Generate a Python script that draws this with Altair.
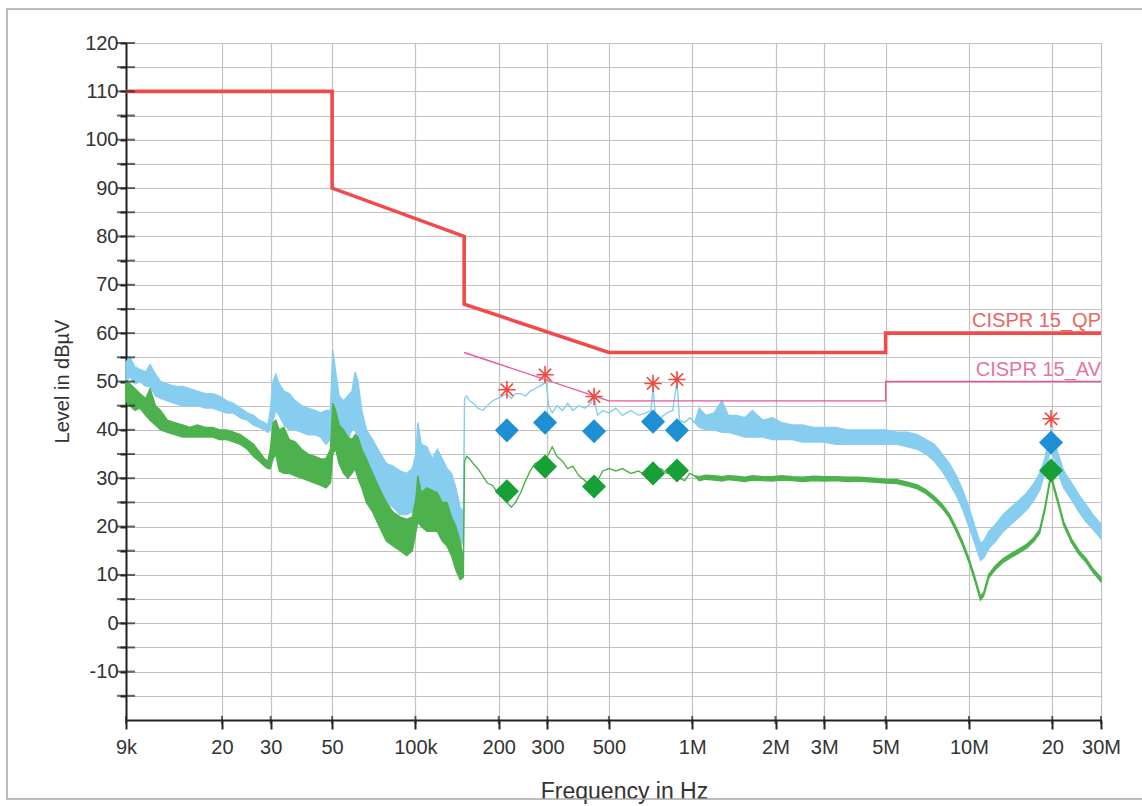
import altair as alt
import pandas as pd

# ---------------- data ----------------
FREQ_KHZ = [
    9.0, 9.3, 9.7, 10.1, 10.6, 11.0, 11.5, 12.0, 12.7, 13.5, 14.4, 15.3, 16.3, 17.4, 18.5, 19.6,
    20.8, 22.0, 23.3, 24.7, 26.0, 27.3, 28.5, 29.3,
    29.9, 30.6, 31.3, 32.2, 33.5, 35.0, 36.8, 38.8, 41.0, 43.3, 45.5, 47.5, 49.3, 50.3, 51.5, 53.0,
    55.0, 57.0, 59.0, 60.5, 62.0, 64.0, 66.5, 70.0, 74.0, 78.5, 83.0, 88.0, 93.0, 97.5, 100.5, 102.0,
    105.0, 110.0, 115.0, 120.0, 125.0, 130.0, 135.0, 140.0, 145.0, 149.0,
    150.5, 153, 157, 162, 168, 175, 182, 190, 198, 206, 214, 222, 230, 240, 250, 260, 270, 280, 290,
    296, 303, 312, 325, 340, 355, 370, 390, 410, 430, 442, 455, 475, 500, 530, 560, 600, 640, 680,
    710, 722, 735, 770, 810, 850, 881, 900, 940, 980, 1020,
    1060, 1120, 1200, 1280, 1350, 1450, 1550, 1650, 1800, 1950, 2100, 2300, 2500, 2750, 3000, 3300,
    3650, 4000, 4500, 5000, 5500, 6000, 6500, 7000, 7500, 8000, 8500, 9000, 9500, 10000, 10500,
    11000, 11300, 11800, 12500, 13300, 14200, 15200, 16200, 17200, 18000, 18800, 19400, 19800,
    20300, 21000, 22000, 23500, 25000, 26500, 28000, 30000,
]

BLUE_LO = [
    50, 51, 49.5, 50, 49, 49, 47, 46.5, 46, 45.5, 45, 45, 45, 44.5, 44.5, 44,
    43.5, 43.5, 42.5, 42, 41, 40.5, 40, 39.5,
    40, 42, 44, 43, 41, 40, 40, 39.5, 39, 39, 38.5, 37, 38, 40, 40, 38,
    39, 38, 40, 40, 38, 35, 31, 29, 27, 25, 24, 22.5, 22.5, 23, 25, 27,
    26, 25, 25, 24, 23, 21, 19, 17, 16, 17,
    46.5, 47, 46, 45.5, 44.5, 44, 45, 46, 46.5, 47, 47.5, 46.5, 47.5, 47.5, 47, 48, 48.5, 49, 49.5,
    50.5, 45, 43.5, 45, 44, 45.5, 44, 45, 44.5, 45.5, 47, 43, 44, 43.5, 44.5, 43, 44, 43, 43.5,
    44, 49, 43, 42.5, 43.5, 44, 50, 42, 41.5, 42.5, 41.5,
    40.5, 40, 40, 39.5, 39.5, 39, 38.5, 38.5, 38.5, 38, 38, 38, 37.5, 37.5, 37.5, 37,
    37, 37, 37, 37, 37, 36.5, 36, 35, 33.5, 31.5, 29, 26.5, 23.5, 20, 16.5,
    13, 13.5, 15.5, 17, 19, 20.5, 22, 23.5, 25.5, 27.5, 31, 34, 37,
    34, 31, 28, 25.5, 23, 21, 19.5, 17.5,
]
BLUE_HI = [
    54, 55, 53, 52.5, 52, 53.5, 51.5, 50, 49.5, 49, 49, 48.5, 48, 47.5, 47.5, 47,
    46, 45.5, 44.5, 43.5, 43, 42, 41.5, 41,
    44, 50, 51.5, 49.5, 48, 47.5, 46, 45, 44.5, 44, 43.5, 44, 44, 56.5, 52, 47,
    46, 47, 48, 52, 50, 44, 40, 38, 35.5, 33, 32.5, 31.5, 31, 32, 35, 41.5,
    37, 36.5, 34, 36, 34, 32, 31, 28, 24, 23,
    46.5, 47, 46, 45.5, 44.5, 44, 45, 46, 46.5, 47, 47.5, 46.5, 47.5, 47.5, 47, 48, 48.5, 49, 49.5,
    50.5, 45, 43.5, 45, 44, 45.5, 44, 45, 44.5, 45.5, 47, 43, 44, 43.5, 44.5, 43, 44, 43, 43.5,
    44, 49, 43, 42.5, 43.5, 44, 50, 42, 41.5, 42.5, 41.5,
    44.5, 43, 43.5, 46, 43, 43, 42.5, 44, 42, 42.5, 41.5, 41, 41, 40.5, 40.5, 40.5,
    40, 40, 40, 40, 39.5, 39.5, 39, 38, 37, 35, 33, 30.5, 27.5, 24, 20,
    16.5, 17, 19, 20.5, 22.5, 24, 25.5, 27, 29, 31, 34, 38, 40,
    38, 35, 31.5, 29, 26.5, 24.5, 22.5, 20.5,
]
GREEN_LO = [
    46, 45, 44, 44.5, 43, 42, 41, 40, 39.5, 39, 38.5, 38.5, 38.5, 38.5, 38.5, 38,
    38, 37.5, 37, 36, 34.5, 33.5, 32.5, 32,
    32, 34, 35, 31.5, 31, 31, 30.5, 30, 29.5, 29, 28.5, 28, 29, 35, 36, 33,
    31, 30, 31, 32, 30, 28, 25, 23, 20, 17, 16, 15, 14, 15, 19, 21,
    20, 19, 19, 19, 17, 16, 14, 11, 9, 9.5,
    33.5, 34.5, 34, 33, 32, 30.5, 29, 28.5, 27, 26, 25, 24, 25, 27, 29.5, 31.5, 33, 33.5, 33,
    34, 35, 36.5, 34.5, 33.5, 32, 32.5, 30.5, 29.5, 28.5, 28.5, 29.5, 31.5, 32, 31.5, 32, 31, 31.5, 30.5,
    31, 31.5, 31, 32, 31, 31.5, 32, 30, 29.5, 31, 30.5,
    29.5, 29.8, 29.6, 29.4, 29.7, 29.5, 29.3, 29.6, 29.5, 29.4, 29.6, 29.5, 29.3, 29.5, 29.4, 29.5,
    29.3, 29.4, 29.2, 29.0, 28.9, 28.4, 27.8, 26.8, 25.4, 23.8, 21.8, 19.0, 16.0, 12.6, 8.8,
    4.8, 5.6, 9.4, 11.2, 12.6, 13.6, 14.6, 15.6, 17.0, 18.6, 23.2, 27.6, 30.2,
    27.6, 24.6, 20.2, 16.6, 14.2, 12.6, 10.6, 8.6,
]
GREEN_HI = [
    50, 49.5, 48.5, 47.5, 46.5, 48.5, 45, 44, 42, 41.5, 41, 40.5, 41, 40.5, 40.5, 40,
    40, 39.5, 39, 38, 37, 35.5, 34, 33.5,
    36, 41.5, 42, 40, 40.5, 38, 37.5, 36, 35, 34.5, 34, 34, 36, 45.5, 44, 41,
    40, 38.5, 38, 39, 38.5, 36, 34, 31, 28, 25, 23, 22, 21.5, 22, 26, 30.5,
    27, 28, 27.5, 27, 25, 25, 22, 20, 17, 13,
    33.5, 34.5, 34, 33, 32, 30.5, 29, 28.5, 27, 26, 25, 24, 25, 27, 29.5, 31.5, 33, 33.5, 33,
    34, 35, 36.5, 34.5, 33.5, 32, 32.5, 30.5, 29.5, 28.5, 28.5, 29.5, 31.5, 32, 31.5, 32, 31, 31.5, 30.5,
    31, 31.5, 31, 32, 31, 31.5, 32, 30, 29.5, 31, 30.5,
    30.3, 30.6, 30.5, 30.3, 30.5, 30.4, 30.2, 30.5, 30.3, 30.3, 30.5, 30.3, 30.2, 30.4, 30.3, 30.3,
    30.2, 30.2, 30.0, 29.8, 29.7, 29.2, 28.6, 27.6, 26.2, 24.6, 22.6, 19.8, 16.8, 13.4, 9.6,
    5.6, 6.4, 10.2, 12.0, 13.4, 14.4, 15.4, 16.4, 17.8, 19.4, 24.0, 28.4, 31.0,
    28.4, 25.4, 21.0, 17.4, 15.0, 13.4, 11.4, 9.4,
]

# limit lines (kHz, dB)
QP_F = [9, 50, 50, 150, 150, 500, 5000, 5000, 30000]
QP_V = [110, 110, 90, 80, 66, 56, 56, 60, 60]
AV_F = [150, 500, 5000, 5000, 30000]
AV_V = [56, 46, 46, 50, 50]
LIMIT_NAMES = ["CISPR 15_QP", "CISPR 15_AV"]

# final measurement markers (kHz, dB)
MARK_F = [214, 294, 442, 722, 881, 19800]
QP_MARK = [39.9, 41.5, 39.7, 41.7, 39.9, 37.4]
AV_MARK = [27.3, 32.4, 28.3, 31.0, 31.6, 31.6]
PEAK_MARK = [48.3, 51.4, 46.9, 49.6, 50.4, 42.3]

X_TICKS = [9e3, 2e4, 3e4, 5e4, 1e5, 2e5, 3e5, 5e5, 1e6, 2e6, 3e6, 5e6, 1e7, 2e7, 3e7]
X_LABELS = ["9k", "20", "30", "50", "100k", "200", "300", "500", "1M", "2M", "3M", "5M", "10M", "20", "30M"]
Y_TICKS = [-15, -10, -5, 0, 5, 10, 15, 20, 25, 30, 35, 40, 45, 50, 55, 60, 65, 70, 75, 80,
           85, 90, 95, 100, 105, 110, 115, 120]

assert len(FREQ_KHZ) == len(BLUE_LO) == len(BLUE_HI) == len(GREEN_LO) == len(GREEN_HI)

# ---------------- styling ----------------
BLUE = "#86cdf0"
GREEN = "#4db24d"
QP_RED = "#f04a4a"
AV_PINK = "#e9559b"
DIAM_BLUE = "#1f8fd4"
DIAM_GREEN = "#17a035"
STAR_RED = "#f2493f"
FONT = "Liberation Sans"
W, H = 975, 677

trace = pd.DataFrame({
    "f": [v * 1000 for v in FREQ_KHZ],
    "blo": BLUE_LO, "bhi": BLUE_HI, "glo": GREEN_LO, "ghi": GREEN_HI,
})
qp = pd.DataFrame({"f": [v * 1000 for v in QP_F], "v": QP_V, "i": list(range(len(QP_F)))})
av = pd.DataFrame({"f": [v * 1000 for v in AV_F], "v": AV_V, "i": list(range(len(AV_F)))})
labels = pd.DataFrame({"f": [QP_F[-1] * 1000, AV_F[-1] * 1000], "v": [QP_V[-1], AV_V[-1]],
                       "t": LIMIT_NAMES})
marks = pd.DataFrame({"f": [v * 1000 for v in MARK_F], "qp": QP_MARK, "av": AV_MARK, "pk": PEAK_MARK})
yt = pd.DataFrame({"f": [9000] * len(Y_TICKS), "v": Y_TICKS})
xt = pd.DataFrame({"f": X_TICKS, "v": [-20] * len(X_TICKS)})

xscale = alt.Scale(type="log", domain=[9000, 30000000], nice=False)
yscale = alt.Scale(domain=[-20, 120], nice=False, zero=False)

x_expr = " : ".join(f"round(datum.value) == {int(v)} ? '{l}'" for v, l in zip(X_TICKS, X_LABELS)) + " : ''"

xaxis = alt.Axis(values=X_TICKS, labelExpr=x_expr, title="Frequency in Hz",
                 grid=True, gridColor="#c2c2c2", gridWidth=1.2,
                 domainColor="#222222", domainWidth=2, tickColor="#222222", tickWidth=2,
                 tickSize=9, labelPadding=8, labelFontSize=20, labelColor="#333333",
                 labelFont=FONT, labelOverlap=False, labelFlush=False,
                 titleFont=FONT, titleFontSize=23, titleFontWeight="normal", titleColor="#333333",
                 titleX=498, titleY=78, titleBaseline="alphabetic", titleAlign="center")
yaxis = alt.Axis(values=Y_TICKS, labelExpr="datum.value % 10 == 0 ? '' + datum.value : ''",
                 title="Level in dBµV",
                 grid=True, gridColor="#c2c2c2", gridWidth=1.2,
                 domainColor="#222222", domainWidth=2, tickColor="#222222", tickWidth=2,
                 tickSize=6, labelPadding=2, labelFontSize=20, labelColor="#333333",
                 labelFont=FONT, labelOverlap=False,
                 titleFont=FONT, titleFontSize=20, titleFontWeight="normal", titleColor="#333333",
                 titleX=-64, titleY=338, titleAngle=270, titleAlign="center", titleBaseline="middle")


def X(field):
    return alt.X(f"{field}:Q", scale=xscale, axis=xaxis, title="Frequency in Hz")


def Y(field):
    return alt.Y(f"{field}:Q", scale=yscale, axis=yaxis, title="Level in dBµV")


blue = alt.Chart(trace).mark_area(color=BLUE, stroke=BLUE, strokeWidth=1.4, opacity=1).encode(
    x=X("f"), y=Y("blo"), y2="bhi:Q")
green = alt.Chart(trace).mark_area(color=GREEN, stroke=GREEN, strokeWidth=1.4, opacity=1).encode(
    x=X("f"), y=Y("glo"), y2="ghi:Q")
qp_line = alt.Chart(qp).mark_line(color=QP_RED, strokeWidth=3.6).encode(
    x=X("f"), y=Y("v"), order="i:Q")
av_line = alt.Chart(av).mark_line(color=AV_PINK, strokeWidth=1.4).encode(
    x=X("f"), y=Y("v"), order="i:Q")
lim_text = alt.Chart(labels).mark_text(align="right", baseline="alphabetic", dy=-6, font=FONT,
                                       fontSize=20).encode(
    x=X("f"), y=Y("v"), text="t:N",
    color=alt.Color("t:N", scale=alt.Scale(domain=LIMIT_NAMES, range=["#ea665e", "#e474a2"]),
                    legend=None))

qp_pts = alt.Chart(marks).mark_point(shape="diamond", filled=True, size=580, color=DIAM_BLUE,
                                     opacity=1).encode(x=X("f"), y=Y("qp"))
av_pts = alt.Chart(marks).mark_point(shape="diamond", filled=True, size=580, color=DIAM_GREEN,
                                     opacity=1).encode(x=X("f"), y=Y("av"))
STAR = "M-1,0L1,0M0,-1L0,1M-0.71,-0.71L0.71,0.71M-0.71,0.71L0.71,-0.71"
pk_pts = alt.Chart(marks).mark_point(shape=STAR, filled=False, size=300, stroke=STAR_RED,
                                     strokeWidth=1.6, opacity=1).encode(x=X("f"), y=Y("pk"))

# inward halves of the cross-shaped axis ticks
y_in = alt.Chart(yt).mark_tick(color="#222222", thickness=2, size=18, orient="horizontal").encode(
    x=X("f"), y=Y("v"))
x_in = alt.Chart(xt).mark_tick(color="#222222", thickness=2, size=8, orient="vertical").encode(
    x=X("f"), y=Y("v"))

# scanned page border (left, top, bottom; the right side runs off the picture)
frame = alt.Chart(pd.DataFrame({"a": [0]})).mark_rect(filled=False, stroke="#a8a8a8",
                                                        strokeWidth=1.5).encode(
    x=alt.value(-119), x2=alt.value(1025), y=alt.value(-34), y2=alt.value(756))

chart = alt.layer(blue, green, qp_line, av_line, lim_text, qp_pts, av_pts, pk_pts, y_in, x_in,
                  frame).properties(
    width=W, height=H,
    autosize=alt.AutoSizeParams(type="none"),
    padding={"left": 126, "top": 43, "right": 41, "bottom": 86},
    background="white",
).configure_view(strokeWidth=0).configure(font=FONT)

chart.save("out.html", embed_options={"renderer": "svg", "actions": False})
